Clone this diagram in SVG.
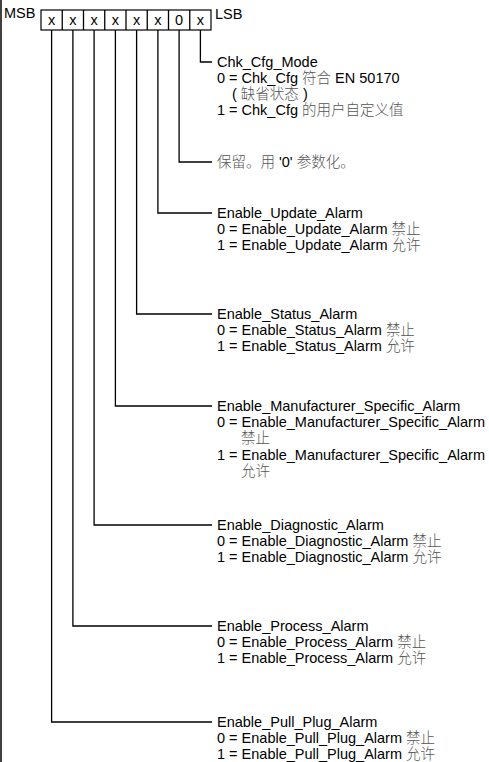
<svg xmlns="http://www.w3.org/2000/svg" width="489" height="762" viewBox="0 0 489 762">
<style>
text{font-family:"Liberation Sans","Noto Sans CJK SC",sans-serif;font-size:14.5px;fill:#000}
.c{fill:#555;font-weight:300}
.ln{fill:none;stroke:#000;stroke-width:1.3}
.bx{fill:#fff;stroke:#000;stroke-width:1.2}
</style>
<rect width="489" height="762" fill="#fff"/>
<line x1="1" y1="0" x2="1" y2="762" stroke="#000" stroke-width="1.5"/>
<g id="register">
<text x="4" y="18">MSB</text>
<rect class="bx" x="41" y="10" width="170" height="20"/>
<g class="ln">
<line x1="62.25" y1="10" x2="62.25" y2="30"/><line x1="83.5" y1="10" x2="83.5" y2="30"/>
<line x1="104.75" y1="10" x2="104.75" y2="30"/><line x1="126" y1="10" x2="126" y2="30"/>
<line x1="147.25" y1="10" x2="147.25" y2="30"/><line x1="168.5" y1="10" x2="168.5" y2="30"/>
<line x1="189.75" y1="10" x2="189.75" y2="30"/>
</g>
<g text-anchor="middle">
<text x="51.6" y="25">x</text><text x="72.9" y="25">x</text><text x="94.1" y="25">x</text><text x="115.4" y="25">x</text>
<text x="136.6" y="25">x</text><text x="157.9" y="25">x</text><text x="179.1" y="25">0</text><text x="200.4" y="25">x</text>
</g>
<text x="215" y="19">LSB</text>
</g>
<g id="connectors" class="ln">
<polyline points="200.4,30 200.4,62 212,62"/>
<polyline points="179.1,30 179.1,162 212,162"/>
<polyline points="157.9,30 157.9,213 212,213"/>
<polyline points="136.6,30 136.6,314 212,314"/>
<polyline points="115.4,30 115.4,406 212,406"/>
<polyline points="94.1,30 94.1,525 212,525"/>
<polyline points="72.9,30 72.9,626 212,626"/>
<polyline points="51.6,30 51.6,722 212,722"/>
</g>
<g id="chk_cfg_mode">
<text x="217" y="67">Chk_Cfg_Mode</text>
<text x="217" y="83">0 = Chk_Cfg <tspan class="c">符合</tspan> EN 50170</text>
<text x="232" y="99">( <tspan class="c">缺省状态</tspan> )</text>
<text x="217" y="115">1 = Chk_Cfg <tspan class="c">的用户自定义值</tspan></text>
</g>
<g id="reserved">
<text x="217" y="167" class="c">保留。用 <tspan fill="#000">'0'</tspan> 参数化。</text>
</g>
<g id="update">
<text x="217" y="218">Enable_Update_Alarm</text>
<text x="217" y="234">0 = Enable_Update_Alarm <tspan class="c">禁止</tspan></text>
<text x="217" y="250">1 = Enable_Update_Alarm <tspan class="c">允许</tspan></text>
</g>
<g id="status">
<text x="217" y="319">Enable_Status_Alarm</text>
<text x="217" y="335">0 = Enable_Status_Alarm <tspan class="c">禁止</tspan></text>
<text x="217" y="351">1 = Enable_Status_Alarm <tspan class="c">允许</tspan></text>
</g>
<g id="manufacturer">
<text x="217" y="411">Enable_Manufacturer_Specific_Alarm</text>
<text x="217" y="427">0 = Enable_Manufacturer_Specific_Alarm</text>
<text x="241" y="443" class="c">禁止</text>
<text x="217" y="460">1 = Enable_Manufacturer_Specific_Alarm</text>
<text x="241" y="476" class="c">允许</text>
</g>
<g id="diagnostic">
<text x="217" y="530">Enable_Diagnostic_Alarm</text>
<text x="217" y="546">0 = Enable_Diagnostic_Alarm <tspan class="c">禁止</tspan></text>
<text x="217" y="562">1 = Enable_Diagnostic_Alarm <tspan class="c">允许</tspan></text>
</g>
<g id="process">
<text x="217" y="631">Enable_Process_Alarm</text>
<text x="217" y="647">0 = Enable_Process_Alarm <tspan class="c">禁止</tspan></text>
<text x="217" y="663">1 = Enable_Process_Alarm <tspan class="c">允许</tspan></text>
</g>
<g id="pull_plug">
<text x="217" y="727">Enable_Pull_Plug_Alarm</text>
<text x="217" y="743">0 = Enable_Pull_Plug_Alarm <tspan class="c">禁止</tspan></text>
<text x="217" y="759">1 = Enable_Pull_Plug_Alarm <tspan class="c">允许</tspan></text>
</g>
</svg>
